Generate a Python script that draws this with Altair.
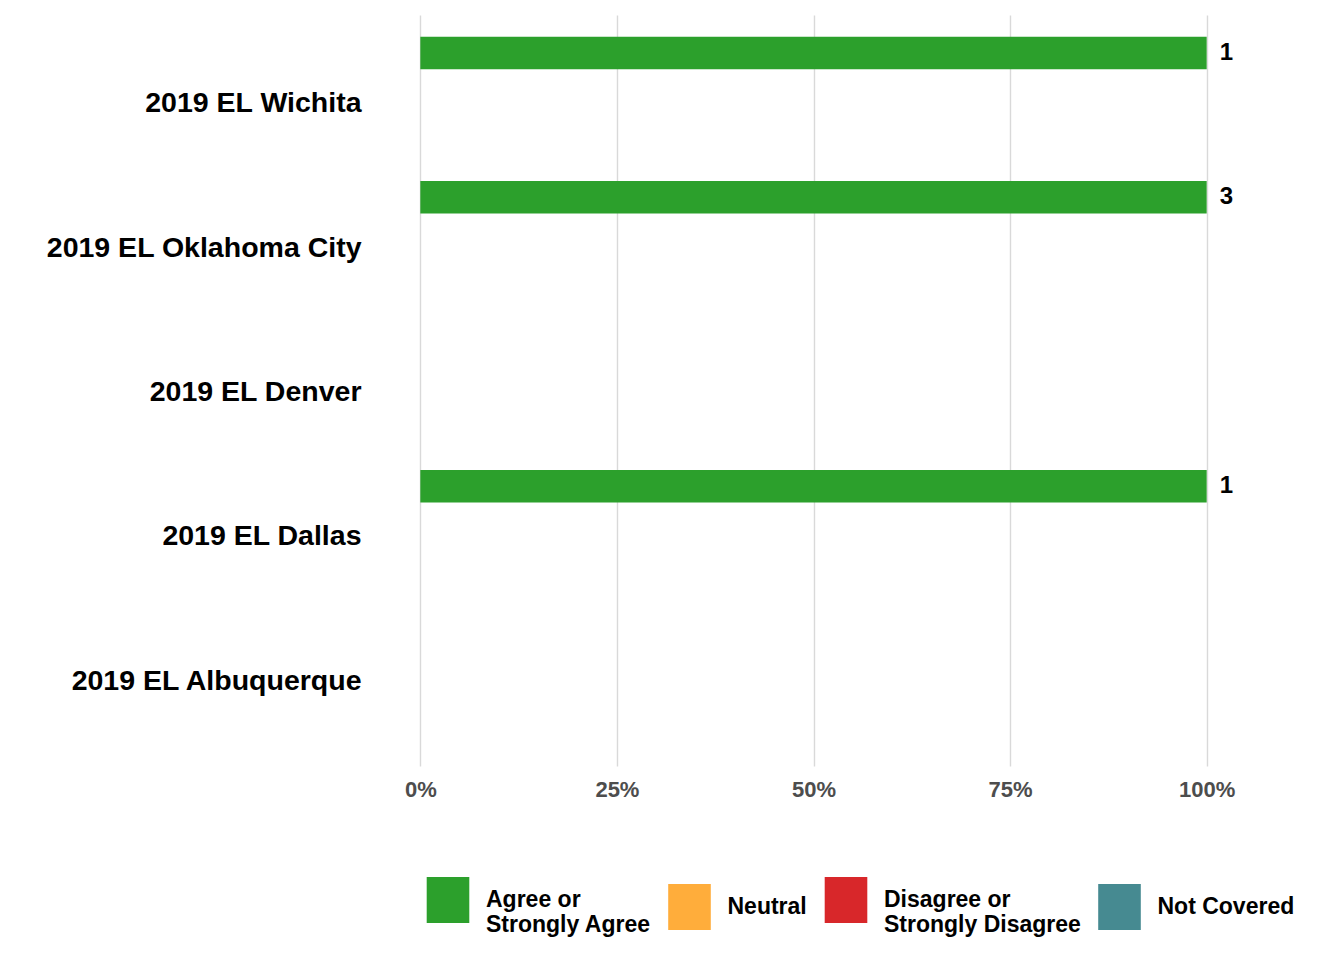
import altair as alt
import pandas as pd

locations = ["2019 EL Wichita", "2019 EL Oklahoma City", "2019 EL Denver",
             "2019 EL Dallas", "2019 EL Albuquerque"]
responses = ["Agree or Strongly Agree", "Neutral",
             "Disagree or Strongly Disagree", "Not Covered"]
colors = ["#2CA02C", "#FFAD3B", "#D8272A", "#468A91"]

bar_locations = ["2019 EL Wichita", "2019 EL Oklahoma City", "2019 EL Dallas"]
bar_response = ["Agree or Strongly Agree"] * 3
bar_pct = [1.0, 1.0, 1.0]
bar_n = [1, 3, 1]

df = pd.DataFrame({"location": bar_locations, "response": bar_response,
                   "pct": bar_pct, "n": bar_n})

FONT = "Liberation Sans"

label_expr = ("datum.label == 'Agree or Strongly Agree' ? ['Agree or', 'Strongly Agree'] : "
              "datum.label == 'Disagree or Strongly Disagree' ? ['Disagree or', 'Strongly Disagree'] : "
              "datum.label")

# slightly taller-than-wide legend key
key_shape = "M-0.926,-1L0.926,-1L0.926,1L-0.926,1Z"

y_enc = alt.Y("location:N",
              scale=alt.Scale(domain=locations, paddingInner=0.1, paddingOuter=0.15),
              axis=alt.Axis(title=None, labelFont=FONT, labelFontSize=28.5,
                            labelFontWeight="bold", labelColor="black",
                            labelPadding=20, labelOffset=1.5, ticks=False,
                            domain=False, grid=False,
                            minExtent=368, maxExtent=368, labelLimit=0))
yoff_enc = alt.YOffset("response:N",
                       scale=alt.Scale(domain=responses, paddingInner=0, paddingOuter=0))
x_enc = alt.X("pct:Q",
              scale=alt.Scale(domain=[-0.05, 1.05], nice=False, zero=False),
              axis=alt.Axis(title=None, values=[0, 0.25, 0.5, 0.75, 1.0], format=".0%",
                            labelFont=FONT, labelFontSize=22, labelFontWeight="bold",
                            labelColor="#4D4D4D", labelPadding=13, ticks=False,
                            domain=False, grid=True, gridColor="#D9D9D9",
                            gridWidth=1.4))

bars = alt.Chart(df).mark_bar().encode(
    x=x_enc,
    y=y_enc,
    yOffset=yoff_enc,
    color=alt.Color("response:N",
                    scale=alt.Scale(domain=responses, range=colors),
                    legend=alt.Legend(title=None, orient="none", legendX=44, legendY=862,
                                      direction="horizontal", columns=4,
                                      symbolType=key_shape, symbolSize=2116,
                                      symbolStrokeWidth=0, symbolOpacity=1,
                                      labelFont=FONT, labelFontSize=23,
                                      labelFontWeight="bold", labelColor="black",
                                      labelOffset=15, columnPadding=15.5, padding=0,
                                      labelLimit=0, labelExpr=label_expr)),
)

texts = alt.Chart(df).mark_text(align="left", baseline="middle", dx=13,
                                font=FONT, fontSize=24, fontWeight="bold",
                                color="black").encode(
    x=alt.X("pct:Q", scale=alt.Scale(domain=[-0.05, 1.05], nice=False, zero=False)),
    y=alt.Y("location:N", scale=alt.Scale(domain=locations)),
    yOffset=alt.YOffset("response:N", scale=alt.Scale(domain=responses)),
    text="n:Q",
)

chart = alt.layer(bars, texts).properties(
    width=865, height=751,
    padding={"left": 5, "top": 7, "right": 5, "bottom": 5},
).configure_view(stroke=None)

chart.save("out.html", embed_options={"renderer": "svg", "actions": False})
